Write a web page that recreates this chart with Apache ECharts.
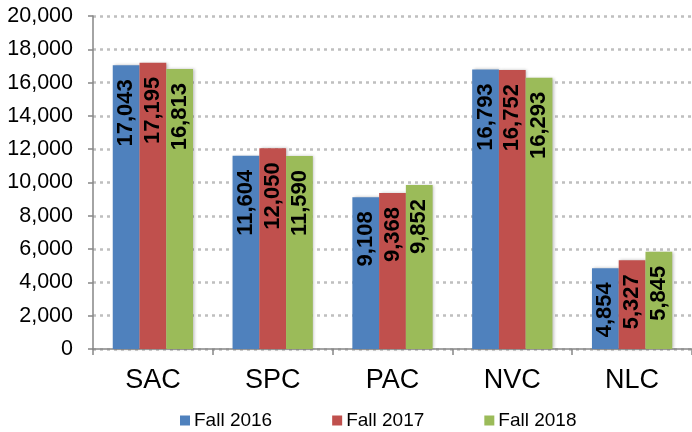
<!DOCTYPE html>
<html>
<head>
<meta charset="utf-8">
<script src="https://cdn.jsdelivr.net/npm/echarts@6/dist/echarts.min.js"></script>
<style>
  html, body { margin: 0; padding: 0; background: #fff; }
  #chart { width: 692px; height: 432px; }
</style>
</head>
<body>
<div id="chart"></div>
<script>
// 数据
var categories = ['SAC', 'SPC', 'PAC', 'NVC', 'NLC'];
var fall2016 = [17043, 11604, 9108, 16793, 4854];
var fall2017 = [17195, 12050, 9368, 16752, 5327];
var fall2018 = [16813, 11590, 9852, 16293, 5845];
var seriesNames = ['Fall 2016', 'Fall 2017', 'Fall 2018'];
var colors = ['#4f81bd', '#c0504d', '#9bbb59'];

var myChart = echarts.init(document.getElementById('chart'));

function makeSeries(name, data, color) {
    return {
        name: name,
        type: 'bar',
        data: data,
        barGap: '0%',
        barCategoryGap: '33%',
        itemStyle: {
            color: color,
            shadowColor: 'rgba(0,0,0,0.25)',
            shadowBlur: 3,
            shadowOffsetX: 1.5,
            shadowOffsetY: 0
        },
        label: {
            show: true,
            position: 'insideTop',
            rotate: 90,
            align: 'right',
            verticalAlign: 'middle',
            distance: 14,
            color: '#000',
            fontFamily: 'Liberation Sans',
            fontWeight: 'bold',
            fontSize: 22,
            formatter: function (p) {
                return p.value.toLocaleString('en-US');
            }
        }
    };
}

myChart.setOption({
    animation: false,
    textStyle: { fontFamily: 'Liberation Sans' },
    grid: { left: 93, right: 0, top: 16, bottom: 83 },
    legend: {
        data: seriesNames,
        top: 406,
        left: 175,
        icon: 'rect',
        itemWidth: 10,
        itemHeight: 10,
        itemGap: 60,
        textStyle: { fontSize: 19, color: '#000', padding: [0, 0, 0, -1] }
    },
    xAxis: {
        type: 'category',
        data: categories,
        axisLine: { lineStyle: { color: '#868686', width: 1.5 } },
        axisTick: { show: true, length: 6, lineStyle: { color: '#868686', width: 1.5 } },
        axisLabel: { fontSize: 27, color: '#000', margin: 18 }
    },
    yAxis: {
        type: 'value',
        min: 0,
        max: 20000,
        interval: 2000,
        axisLine: { show: true, lineStyle: { color: '#868686', width: 1.5 } },
        axisTick: { show: true, length: 5, lineStyle: { color: '#868686', width: 1.5 } },
        axisLabel: {
            fontSize: 21.5,
            color: '#000',
            margin: 20,
            formatter: function (v) { return v.toLocaleString('en-US'); }
        },
        splitLine: { lineStyle: { color: '#bfbfbf', width: 2.5, type: [3, 4] } }
    },
    series: [
        makeSeries(seriesNames[0], fall2016, colors[0]),
        makeSeries(seriesNames[1], fall2017, colors[1]),
        makeSeries(seriesNames[2], fall2018, colors[2])
    ]
});
</script>
</body>
</html>
